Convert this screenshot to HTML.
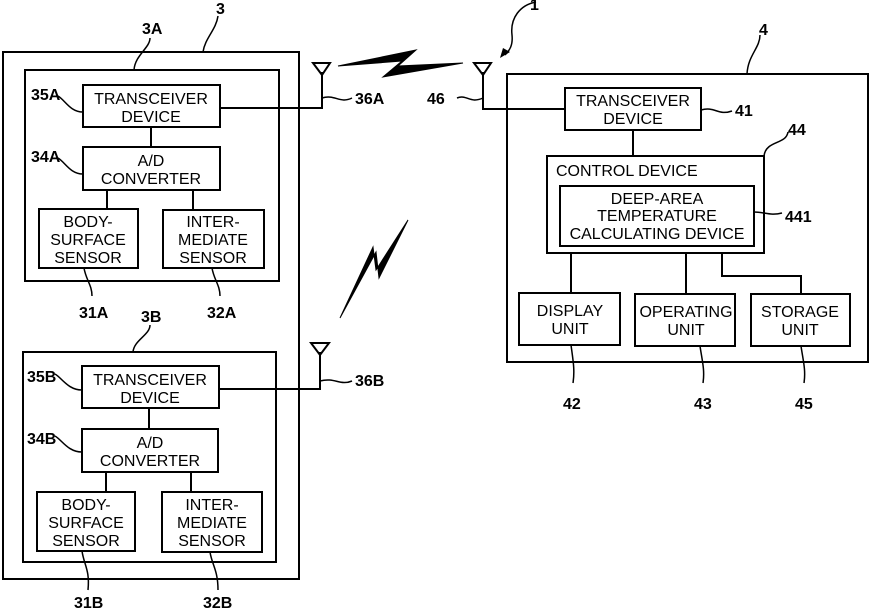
<!DOCTYPE html>
<html><head><style>
html,body{margin:0;padding:0;background:#fff}
svg{display:block}
text{font-family:"Liberation Sans",sans-serif;fill:#000}
.b{font-size:16px;text-anchor:middle}
.l{font-size:16px;font-weight:bold;font-family:"Liberation Sans Narrow","Liberation Sans",sans-serif}
</style></head><body>
<svg width="869" height="609" viewBox="0 0 869 609" xmlns="http://www.w3.org/2000/svg">
<g fill="none" stroke="#000" stroke-width="2">
<rect x="3" y="52" width="296" height="527"/>
<rect x="25" y="70" width="254" height="211"/>
<rect x="83" y="85" width="137" height="42"/>
<rect x="83" y="147" width="137" height="43"/>
<rect x="39" y="209" width="99" height="59"/>
<rect x="163" y="210" width="101" height="58"/>
<line x1="151" y1="127" x2="151" y2="147"/>
<line x1="107" y1="190" x2="107" y2="209"/>
<line x1="193" y1="190" x2="193" y2="210"/>
<rect x="23" y="352" width="253" height="210"/>
<rect x="82" y="366" width="137" height="42"/>
<rect x="82" y="429" width="136" height="43"/>
<rect x="37" y="492" width="98" height="59"/>
<rect x="162" y="492" width="100" height="60"/>
<line x1="149" y1="408" x2="149" y2="429"/>
<line x1="106" y1="472" x2="106" y2="492"/>
<line x1="191" y1="472" x2="191" y2="492"/>
<polyline points="220,108 322,108 322,72"/>
<polygon points="313,63 330,63 322,75"/>
<polyline points="219,389 320,389 320,352"/>
<polygon points="311,343 329,343 320,355"/>
<polyline points="566,109 483,109 483,72"/>
<polygon points="474,63 491,63 483,75"/>
<rect x="507" y="74" width="361" height="288"/>
<rect x="565" y="88" width="136" height="42"/>
<rect x="547" y="156" width="217" height="97"/>
<rect x="560" y="186" width="194" height="60"/>
<rect x="519" y="293" width="101" height="52"/>
<rect x="635" y="294" width="100" height="52"/>
<rect x="751" y="294" width="99" height="52"/>
<line x1="633" y1="130" x2="633" y2="156"/>
<line x1="571" y1="253" x2="571" y2="293"/>
<line x1="686" y1="253" x2="686" y2="294"/>
<polyline points="722,253 722,276 801,276 801,294"/>
</g>
<g fill="#000" stroke="#000" stroke-width="1">
<polygon points="338,66 416,50 398,66 463,63 383,77 402,61"/>
<polygon points="340,318 376,252 379,278 408,220 376,270 373,247"/>
</g>
<g fill="none" stroke="#000" stroke-width="1.5">
<path d="M150,38 C150,48 135,55 134,70"/>
<path d="M218,16 C216,30 205,38 203,52"/>
<path d="M58,96 C65,100 70,112 83,112"/>
<path d="M58,158 C65,162 70,174 83,174"/>
<path d="M84,268 C86,280 92,285 92,296"/>
<path d="M212,268 C214,280 220,285 220,296"/>
<path d="M322,98 C335,94 340,104 352,98"/>
<path d="M457,98 C467,94 470,104 483,98"/>
<path d="M150,325 C150,335 134,340 133,352"/>
<path d="M55,374 C62,378 68,390 82,390"/>
<path d="M55,436 C62,440 68,452 82,452"/>
<path d="M82,551 C84,565 90,570 88,590"/>
<path d="M210,552 C212,565 218,570 218,590"/>
<path d="M320,381 C335,377 340,386 352,381"/>
<path d="M536,2 C520,5 510,18 512,35 C513,45 510,50 505,55"/>
<path d="M760,35 C760,48 748,55 747,74"/>
<path d="M701,110 C715,106 718,116 732,111"/>
<path d="M788,132 C786,145 766,140 764,156"/>
<path d="M754,212 C765,212 770,216 782,213"/>
<path d="M571,345 C573,360 575,370 573,383"/>
<path d="M700,346 C702,360 705,370 703,383"/>
<path d="M801,346 C803,360 806,370 804,383"/>
</g>
<g fill="#000" stroke="none"><polygon points="500,58 503,48 510,52"/></g>
<text class="b" x="151" y="104">TRANSCEIVER</text><text class="b" x="151" y="122">DEVICE</text>
<text class="b" x="151" y="166">A/D</text><text class="b" x="151" y="184">CONVERTER</text>
<text class="b" x="88" y="227">BODY-</text><text class="b" x="88" y="245">SURFACE</text><text class="b" x="88" y="263">SENSOR</text>
<text class="b" x="213" y="227">INTER-</text><text class="b" x="213" y="245">MEDIATE</text><text class="b" x="213" y="263">SENSOR</text>
<text class="b" x="150" y="385">TRANSCEIVER</text><text class="b" x="150" y="403">DEVICE</text>
<text class="b" x="150" y="448">A/D</text><text class="b" x="150" y="466">CONVERTER</text>
<text class="b" x="86" y="510">BODY-</text><text class="b" x="86" y="528">SURFACE</text><text class="b" x="86" y="546">SENSOR</text>
<text class="b" x="212" y="510">INTER-</text><text class="b" x="212" y="528">MEDIATE</text><text class="b" x="212" y="546">SENSOR</text>
<text class="b" x="633" y="106">TRANSCEIVER</text><text class="b" x="633" y="124">DEVICE</text>
<text x="556" y="176" style="font-size:16px">CONTROL DEVICE</text>
<text class="b" x="657" y="204">DEEP-AREA</text><text class="b" x="657" y="221">TEMPERATURE</text><text class="b" x="657" y="239">CALCULATING DEVICE</text>
<text class="b" x="570" y="316">DISPLAY</text><text class="b" x="570" y="334">UNIT</text>
<text class="b" x="686" y="317">OPERATING</text><text class="b" x="686" y="335">UNIT</text>
<text class="b" x="800" y="317">STORAGE</text><text class="b" x="800" y="335">UNIT</text>
<text class="l" x="142" y="34">3A</text>
<text class="l" x="216" y="14">3</text>
<text class="l" x="31" y="100">35A</text>
<text class="l" x="31" y="162">34A</text>
<text class="l" x="79" y="318">31A</text>
<text class="l" x="207" y="318">32A</text>
<text class="l" x="355" y="104">36A</text>
<text class="l" x="427" y="104">46</text>
<text class="l" x="141" y="322">3B</text>
<text class="l" x="27" y="382">35B</text>
<text class="l" x="27" y="444">34B</text>
<text class="l" x="74" y="608">31B</text>
<text class="l" x="203" y="608">32B</text>
<text class="l" x="355" y="386">36B</text>
<text class="l" x="530" y="10">1</text>
<text class="l" x="759" y="35">4</text>
<text class="l" x="735" y="116">41</text>
<text class="l" x="788" y="135">44</text>
<text class="l" x="785" y="222">441</text>
<text class="l" x="563" y="409">42</text>
<text class="l" x="694" y="409">43</text>
<text class="l" x="795" y="409">45</text>
</svg>
</body></html>
